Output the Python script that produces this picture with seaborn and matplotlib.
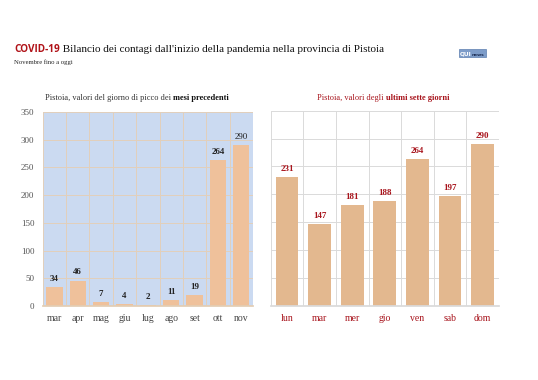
import matplotlib
matplotlib.use("Agg")
import matplotlib.pyplot as plt
import seaborn as sns
import numpy as np
from matplotlib.patches import Rectangle

months = ["mar", "apr", "mag", "giu", "lug", "ago", "set", "ott", "nov"]
month_vals = [34, 46, 7, 4, 2, 11, 19, 264, 290]
days = ["lun", "mar", "mer", "gio", "ven", "sab", "dom"]
day_vals = [231, 147, 181, 188, 264, 197, 290]
yticks = [0, 50, 100, 150, 200, 250, 300, 350]

sns.set_theme(style="white")
plt.rcParams['font.family'] = ['Liberation Serif', 'DejaVu Serif']

W, H = 538, 380
fig = plt.figure(figsize=(W / 100, H / 100), dpi=100)
fig.patch.set_facecolor("white")

def fx(px):
    return px / W

def fy(py):
    return 1 - py / H

dark_red = "#a8141c"
bar_left = "#efc19b"
bar_right = "#e3b88f"

# Left axes
axL = fig.add_axes([fx(42.7), fy(306), fx(253 - 42.7), (306 - 112) / H])
sns.barplot(x=months, y=month_vals, color=bar_left, width=0.7, saturation=1,
            linewidth=0, edgecolor="none", ax=axL)
axL.set_facecolor("#cbdaf1")
axL.set_ylim(0, 350)
axL.set_xlim(-0.5, len(months) - 0.5)
axL.set_yticks(yticks)
axL.set_yticklabels([str(t) for t in yticks], fontsize=6.5, color="#555555")
axL.set_xlabel("")
axL.set_ylabel("")
axL.set_xticks(range(len(months)))
axL.set_xticklabels(months, fontsize=7, color="#444444")
axL.tick_params(axis="both", length=0, pad=6)
axL.set_xticks(np.arange(-0.5, len(months), 1), minor=True)
axL.tick_params(axis="x", which="minor", length=4, color="#e3cdb3", direction="out")
axL.grid(False)
for t in yticks[1:]:
    axL.axhline(t, color="#e2cfbb", lw=0.7, zorder=0.5)
for b in np.arange(-0.5, len(months), 1):
    axL.axvline(b, color="#e2cfbb", lw=0.7, zorder=0.5)
for s in axL.spines.values():
    s.set_visible(False)
axL.spines["bottom"].set_visible(True)
axL.spines["bottom"].set_color("#e3cdb3")
for bar in axL.patches:
    bar.set_zorder(2)
labs = axL.bar_label(axL.containers[0], labels=[str(v) for v in month_vals],
                     padding=3, fontsize=6.5, fontweight="bold", color="#222222")
labs[-1].set_fontweight("normal")

# Right axes
axR = fig.add_axes([fx(270.7), fy(306), fx(499 - 270.7), (306 - 110.7) / H])
sns.barplot(x=days, y=day_vals, color=bar_right, width=0.7, saturation=1,
            linewidth=0, edgecolor="none", ax=axR)
axR.set_facecolor("white")
axR.set_ylim(0, 350)
axR.set_xlim(-0.5, len(days) - 0.5)
axR.set_yticks(yticks)
axR.set_yticklabels([])
axR.set_xlabel("")
axR.set_ylabel("")
axR.set_xticks(range(len(days)))
axR.set_xticklabels(days, fontsize=7, color=dark_red)
axR.tick_params(axis="both", length=0, pad=6)
axR.grid(False)
for t in yticks[1:]:
    axR.axhline(t, color="#dadada", lw=0.7, zorder=0.5)
for b in np.arange(-0.5, len(days), 1):
    axR.axvline(b, color="#dadada", lw=0.7, zorder=0.5)
for s in axR.spines.values():
    s.set_visible(False)
axR.spines["bottom"].set_visible(True)
axR.spines["bottom"].set_color("#dadada")
for bar in axR.patches:
    bar.set_zorder(2)
axR.bar_label(axR.containers[0], labels=[str(v) for v in day_vals],
              padding=3, fontsize=6.5, fontweight="bold", color=dark_red)

fig.canvas.draw()
rend = fig.canvas.get_renderer()

def seq_text(x_px, y_px, parts):
    x = x_px
    for txt, kw in parts:
        t = fig.text(fx(x), fy(y_px), txt, va="baseline", ha="left", **kw)
        bb = t.get_window_extent(renderer=rend)
        x += bb.width
    return x

# Title
seq_text(14, 52, [
    ("COVID-19", dict(fontsize=7.2, fontweight="bold", color="#b01218",
                      family=["Open Sans", "DejaVu Sans"])),
    (" Bilancio dei contagi dall'inizio della pandemia nella provincia di Pistoia",
     dict(fontsize=8.0, color="#111111")),
])
fig.text(fx(14), fy(64), "Novembre fino a oggi", fontsize=4.8, color="#222222",
         va="baseline", ha="left")

# Panel titles
seq_text(45, 100, [
    ("Pistoia, valori del giorno di picco dei ", dict(fontsize=6, color="#333333")),
    ("mesi precedenti", dict(fontsize=6, color="#111111", fontweight="bold")),
])
seq_text(317, 100, [
    ("Pistoia, valori degli ", dict(fontsize=6, color=dark_red)),
    ("ultimi sette giorni", dict(fontsize=6, color=dark_red, fontweight="bold")),
])

# Logo
logo = Rectangle((fx(459), fy(57)), fx(27), (57 - 49) / H, transform=fig.transFigure,
                 facecolor="#7d9cc9", edgecolor="#5d7fb0", lw=0.5)
fig.add_artist(logo)
seq_text(460, 55.5, [
    ("QUI", dict(fontsize=4.2, fontweight="bold", color="white", family=["DejaVu Sans"])),
    ("news", dict(fontsize=3.2, fontweight="bold", color="#1d2e55", family=["DejaVu Sans"])),
])

fig.savefig("out.png", dpi=100, facecolor="white")
